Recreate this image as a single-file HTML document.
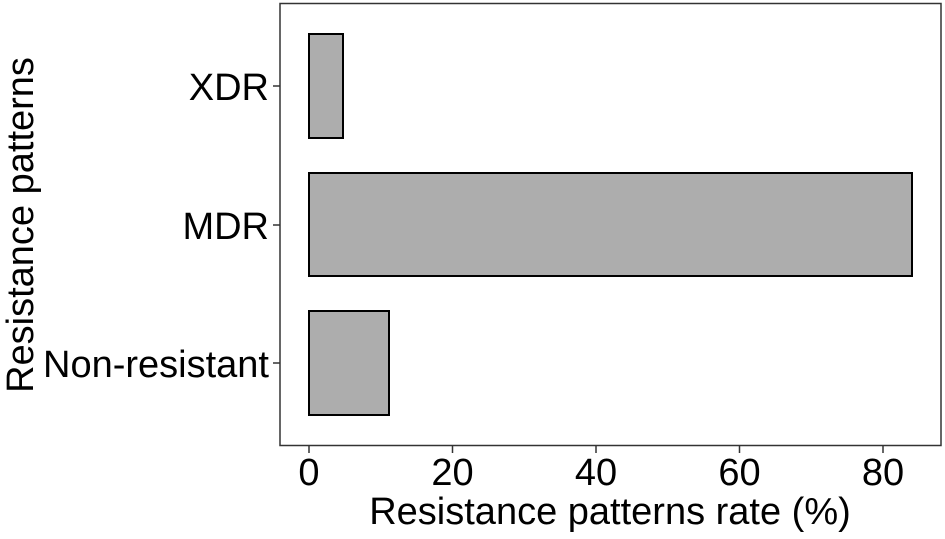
<!DOCTYPE html><html><head><style>body{margin:0;background:#fff}</style></head><body>
<svg width="945" height="534" xmlns="http://www.w3.org/2000/svg" font-family="Liberation Sans, sans-serif">
<rect x="0" y="0" width="945" height="534" fill="#fff"/>
<rect x="280" y="3.5" width="661" height="442" fill="none" stroke="#333" stroke-width="1.5"/>
<g fill="#adadad" stroke="#000" stroke-width="2">
<rect x="309" y="34" width="34" height="104"/>
<rect x="309" y="173" width="603" height="103"/>
<rect x="309" y="311" width="80" height="104"/>
</g>
<g stroke="#333" stroke-width="1.5">
<line x1="273" y1="86" x2="280" y2="86"/><line x1="273" y1="225" x2="280" y2="225"/><line x1="273" y1="363" x2="280" y2="363"/>
<line x1="309" y1="446" x2="309" y2="453"/><line x1="452.5" y1="446" x2="452.5" y2="453"/><line x1="596" y1="446" x2="596" y2="453"/><line x1="739.5" y1="446" x2="739.5" y2="453"/><line x1="883" y1="446" x2="883" y2="453"/>
</g>
<g font-size="38" fill="#000" text-anchor="end">
<text x="269" y="100">XDR</text><text x="269" y="239">MDR</text><text x="269" y="377">Non-resistant</text>
</g>
<g font-size="38" fill="#000" text-anchor="middle">
<text x="309" y="485">0</text><text x="452.5" y="485">20</text><text x="596" y="485">40</text><text x="739.5" y="485">60</text><text x="883" y="485">80</text>
<text x="610" y="524">Resistance patterns rate (%)</text>
<text transform="translate(33,225) rotate(-90)">Resistance patterns</text>
</g>
</svg></body></html>
